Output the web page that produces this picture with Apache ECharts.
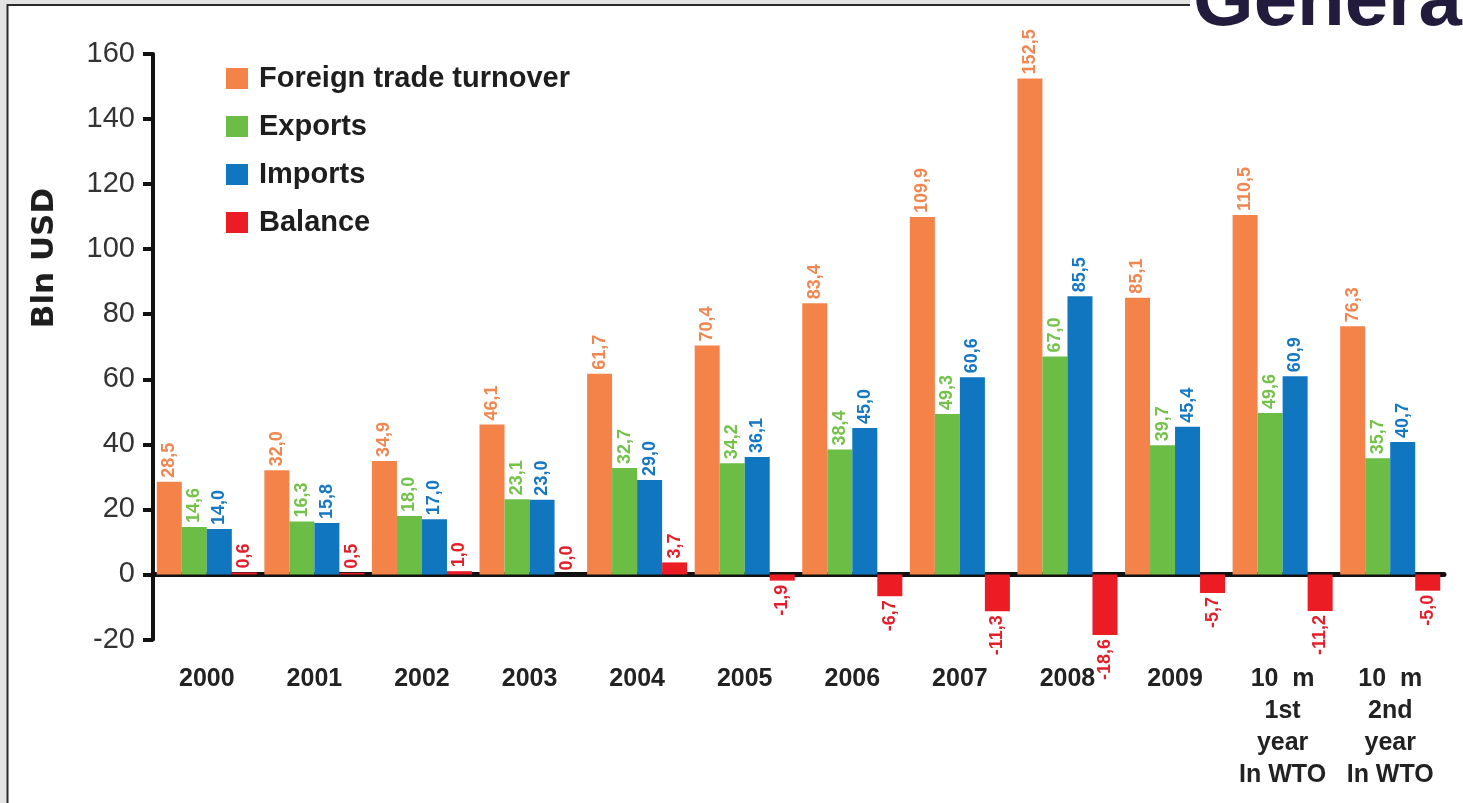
<!DOCTYPE html>
<html>
<head>
<meta charset="utf-8">
<title>Foreign trade</title>
<script src="https://cdn.jsdelivr.net/npm/echarts@6/dist/echarts.min.js"></script>
<style>
  html, body { margin: 0; padding: 0; background: #ffffff; }
  #chart { width: 1463px; height: 803px; }
</style>
</head>
<body>
<div id="chart"></div>
<script>
// Categories along the x axis
const categories = [
  '2000', '2001', '2002', '2003', '2004', '2005', '2006', '2007', '2008', '2009',
  '10  m\n1st\nyear\nIn WTO', '10  m\n2nd\nyear\nIn WTO'
];

// Values, billion USD
const turnover = [28.5, 32.0, 34.9, 46.1, 61.7, 70.4, 83.4, 109.9, 152.5, 85.1, 110.5, 76.3];
const exportsVal = [14.6, 16.3, 18.0, 23.1, 32.7, 34.2, 38.4, 49.3, 67.0, 39.7, 49.6, 35.7];
const importsVal = [14.0, 15.8, 17.0, 23.0, 29.0, 36.1, 45.0, 60.6, 85.5, 45.4, 60.9, 40.7];
const balance = [0.6, 0.5, 1.0, 0.0, 3.7, -1.9, -6.7, -11.3, -18.6, -5.7, -11.2, -5.0];

const seriesNames = ['Foreign trade turnover', 'Exports', 'Imports', 'Balance'];
const barColors = ['#f4834a', '#6cbd45', '#0f76bf', '#ec1c24'];
const labelColors = ['#f08650', '#74c24a', '#1677c2', '#e31f2b'];

// Values printed with a decimal comma
const fmt = p => p.value.toFixed(1).replace('.', ',');

function makeSeries(name, values, idx) {
  return {
    name: name,
    type: 'bar',
    barGap: '0%',
    barCategoryGap: '7%',
    itemStyle: { color: barColors[idx] },
    label: {
      show: true,
      position: 'top',
      rotate: 90,
      align: 'left',
      verticalAlign: 'middle',
      distance: 4,
      color: labelColors[idx],
      fontFamily: 'Liberation Sans, Arial, sans-serif',
      fontWeight: 'bold',
      fontSize: 18,
      formatter: fmt
    },
    // negative bars carry their label below the bar end
    data: values.map(v => v < 0
      ? { value: v, label: { position: 'bottom', align: 'right' } }
      : v)
  };
}

const chart = echarts.init(document.getElementById('chart'), null, { renderer: 'canvas' });

chart.setOption({
  backgroundColor: '#ffffff',
  animation: false,
  textStyle: { fontFamily: 'Liberation Sans, Arial, sans-serif' },
  graphic: [
    // page frame: grey margin with dark rules on the left and top
    { type: 'rect', shape: { x: 0, y: 0, width: 7, height: 803 }, style: { fill: '#e3e3e3' }, silent: true },
    { type: 'rect', shape: { x: 0, y: 0, width: 1190, height: 4 }, style: { fill: '#e3e3e3' }, silent: true },
    { type: 'line', shape: { x1: 7.5, y1: 4, x2: 7.5, y2: 803 }, style: { stroke: '#2b2b2b', lineWidth: 2 }, silent: true },
    { type: 'line', shape: { x1: 7, y1: 5, x2: 1190, y2: 5 }, style: { stroke: '#2b2b2b', lineWidth: 2 }, silent: true },
    // heading running off the top edge
    {
      type: 'text', x: 1193, y: -36, silent: true,
      style: {
        text: 'General', font: 'bold 78px "Liberation Sans", Arial, sans-serif',
        fill: '#231b3b', verticalAlign: 'top'
      }
    },
    // value axis title
    {
      type: 'text', x: 45, y: 258, rotation: Math.PI / 2, silent: true,
      style: {
        text: 'Bln USD', font: 'bold 31px "DejaVu Sans", sans-serif',
        fill: '#1e1e1e', align: 'center', verticalAlign: 'middle'
      }
    }
  ],
  legend: {
    orient: 'vertical',
    left: 221,
    top: 58,
    icon: 'rect',
    itemWidth: 22,
    itemHeight: 21,
    itemGap: 17,
    data: seriesNames,
    textStyle: {
      color: '#1e1e1e',
      fontWeight: 'bold',
      fontSize: 29,
      lineHeight: 31,
      padding: [0, 0, 0, 6]
    }
  },
  grid: { left: 153, right: 19, top: 54, bottom: 163.5, containLabel: false },
  xAxis: [
    {
      type: 'category',
      data: categories,
      position: 'bottom',
      axisLine: { show: false, onZero: false },
      axisTick: { show: false },
      axisLabel: {
        interval: 0,
        margin: 24,
        color: '#222222',
        fontWeight: 'bold',
        fontSize: 25,
        lineHeight: 32
      }
    },
    {
      type: 'category',
      data: categories,
      position: 'bottom',
      axisLine: { show: true, onZero: true, lineStyle: { color: '#111111', width: 5 } },
      axisTick: { show: false },
      axisLabel: { show: false }
    }
  ],
  yAxis: {
    type: 'value',
    min: -20,
    max: 160,
    interval: 20,
    axisLine: { show: true, lineStyle: { color: '#111111', width: 4 } },
    axisTick: { show: true, length: 10, lineStyle: { color: '#111111', width: 4 } },
    splitLine: { show: false },
    axisLabel: { color: '#333333', fontSize: 29, margin: 18 }
  },
  series: [
    makeSeries(seriesNames[0], turnover, 0),
    makeSeries(seriesNames[1], exportsVal, 1),
    makeSeries(seriesNames[2], importsVal, 2),
    makeSeries(seriesNames[3], balance, 3)
  ]
});
</script>
</body>
</html>
